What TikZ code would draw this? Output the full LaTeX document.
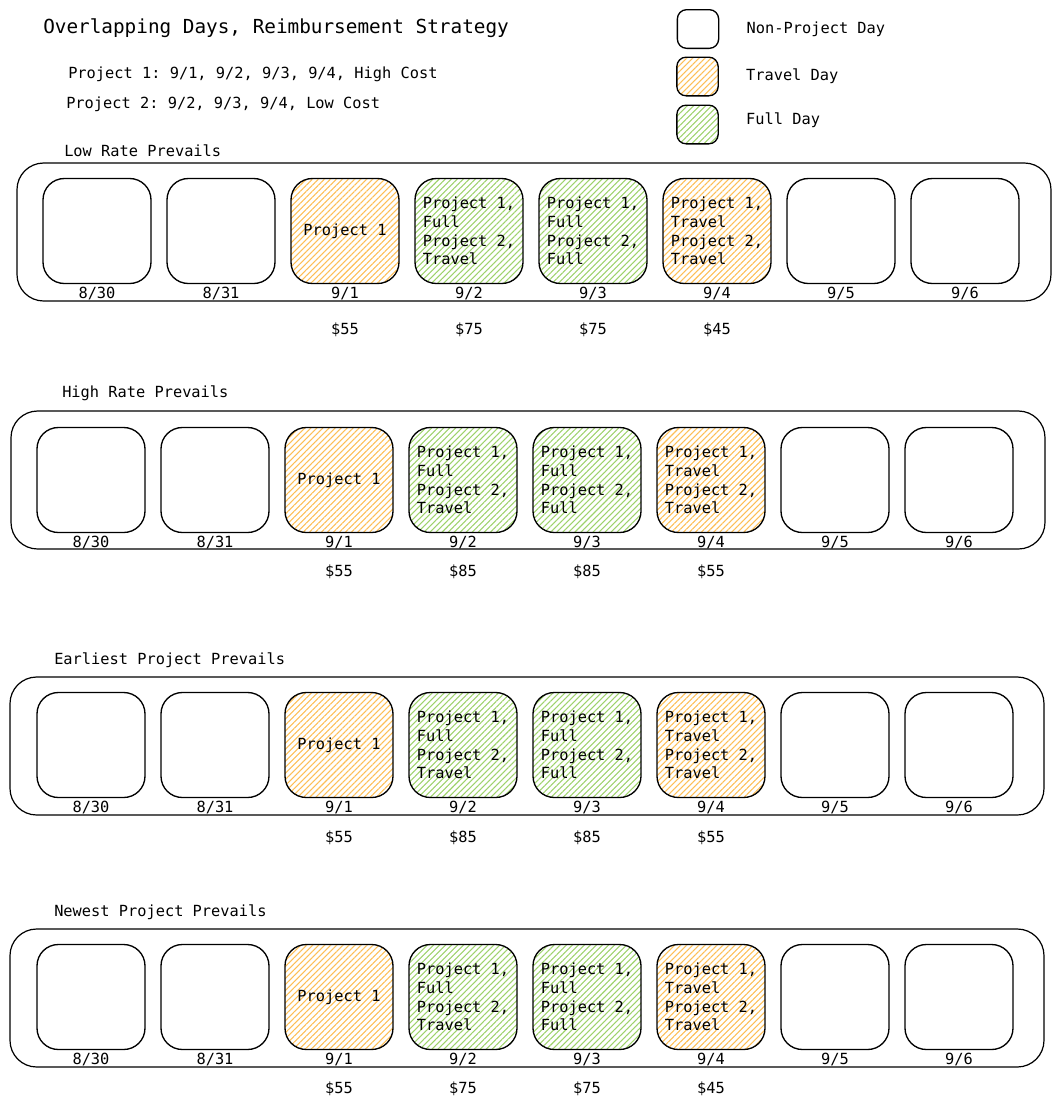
\documentclass[tikz,border=0pt]{standalone}
\usepackage{fontspec}
\setmonofont{DejaVu Sans Mono}
\usepackage{tikz}
\usetikzlibrary{positioning, patterns.meta}
\definecolor{travelorange}{HTML}{FDBE55}
\definecolor{fullgreen}{HTML}{9ED26C}

\begin{document}
\begin{tikzpicture}[
    x=0.75pt, y=-0.75pt,
    node distance=11pt,
    every node/.style={font=\ttfamily\fontsize{11.5}{14}\selectfont},
    daybox/.style={rectangle, rounded corners=16pt, draw, line width=1pt, minimum width=81pt, minimum height=78.75pt, align=left, inner sep=3pt},
    travel/.style={daybox, pattern={Lines[angle=45, distance=3.2pt, line width=0.8pt]}, pattern color=travelorange},
    full/.style={daybox, pattern={Lines[angle=45, distance=3.2pt, line width=0.8pt]}, pattern color=fullgreen},
    legendbox/.style={rectangle, rounded corners=7pt, draw, line width=1pt, minimum width=31pt, minimum height=29pt},
    legendtravel/.style={legendbox, pattern={Lines[angle=45, distance=3.2pt, line width=0.8pt]}, pattern color=travelorange},
    legendfull/.style={legendbox, pattern={Lines[angle=45, distance=3.2pt, line width=0.8pt]}, pattern color=fullgreen},
    panel/.style={rectangle, rounded corners=20pt, draw, line width=0.9pt, minimum width=775.5pt, minimum height=103.5pt},
    caption/.style={anchor=west, inner sep=0pt}
]
\useasboundingbox (0,0) rectangle (1061,1107);

% title and projects
\node[caption, font=\ttfamily\fontsize{14.5}{17}\selectfont] (title) at (43,28) {Overlapping Days, Reimbursement Strategy};
\node[caption] (proj1) at (68,74) {Project 1: 9/1, 9/2, 9/3, 9/4, High Cost};
\node[caption] (proj2) at (66,104) {Project 2: 9/2, 9/3, 9/4, Low Cost};

% legend
\node[legendbox] (leg-none) at (698,29) {};
\node[legendtravel] (leg-travel) at (697.5,76.5) {};
\node[legendfull] (leg-full) at (697.5,124.5) {};
\node[right=17pt of leg-none] (txt-none) {Non-Project Day};
\node[right=17pt of leg-travel] (txt-travel) {Travel Day};
\node[right=17pt of leg-full, yshift=3.5pt] (txt-full) {Full Day};

% one panel per strategy
\foreach \pnl/\px/\py/\cx/\cy/\lx/\ly/\heading/\costmid/\costend/\gap in {
    1/97/231/534/232/64/151/Low Rate Prevails/75/45/10pt,
    2/91/480/528/480/62/393/High Rate Prevails/85/55/5pt,
    3/91/745/527/746/54/660/Earliest Project Prevails/85/55/6pt,
    4/91/997/527/998/54/912/Newest Project Prevails/75/45/5pt}
{
  \node[panel] (frame\pnl) at (\cx,\cy) {};
  \node[caption] (head\pnl) at (\lx,\ly) {\heading};
  \node[daybox] (day\pnl-1) at (\px,\py) {};
  \node[daybox, right=of day\pnl-1] (day\pnl-2) {};
  \node[travel, right=of day\pnl-2, align=center] (day\pnl-3) {Project 1};
  \node[full, right=of day\pnl-3] (day\pnl-4) {Project 1,\\Full\\Project 2,\\Travel};
  \node[full, right=of day\pnl-4] (day\pnl-5) {Project 1,\\Full\\Project 2,\\Full};
  \node[travel, right=of day\pnl-5] (day\pnl-6) {Project 1,\\Travel\\Project 2,\\Travel};
  \node[daybox, right=of day\pnl-6] (day\pnl-7) {};
  \node[daybox, right=of day\pnl-7] (day\pnl-8) {};
  \foreach \d/\txt in {1/{8/30}, 2/{8/31}, 3/{9/1}, 4/{9/2}, 5/{9/3}, 6/{9/4}, 7/{9/5}, 8/{9/6}}
    \node[below=-1.5pt of day\pnl-\d] (date\pnl-\d) {\txt};
  \node[below=\gap of date\pnl-3] (cost\pnl-3) {\$55};
  \node[below=\gap of date\pnl-4] (cost\pnl-4) {\$\costmid};
  \node[below=\gap of date\pnl-5] (cost\pnl-5) {\$\costmid};
  \node[below=\gap of date\pnl-6] (cost\pnl-6) {\$\costend};
}
\end{tikzpicture}
\end{document}
